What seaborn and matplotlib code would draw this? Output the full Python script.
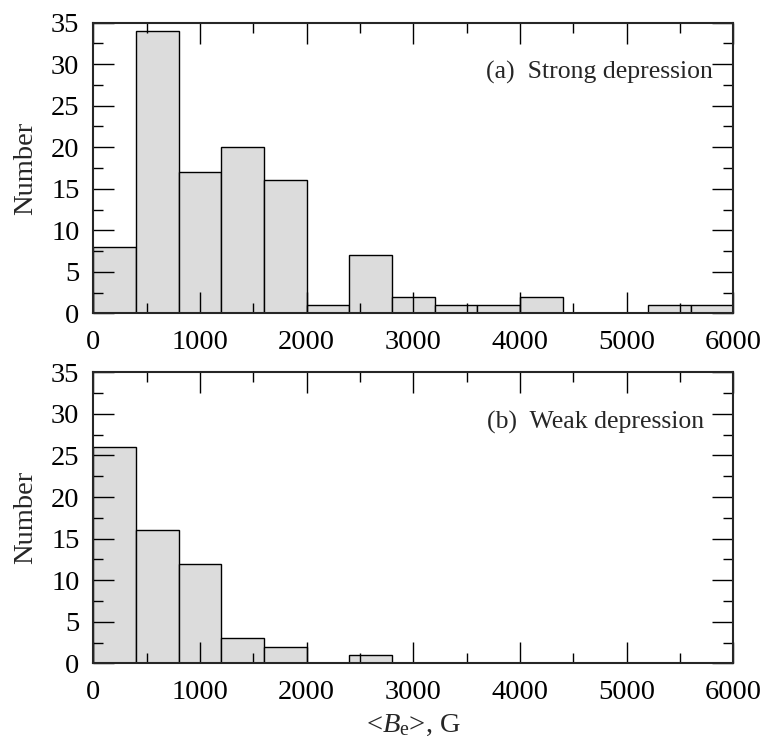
import numpy as np
import matplotlib
matplotlib.use("Agg")
import matplotlib.pyplot as plt
import seaborn as sns

# histogram counts, bins of 400 G from 0 to 6000
bin_edges = [0, 400, 800, 1200, 1600, 2000, 2400, 2800, 3200, 3600,
             4000, 4400, 4800, 5200, 5600, 6000]
strong_counts = [8, 34, 17, 20, 16, 1, 7, 2, 1, 1, 2, 0, 0, 1, 1]
weak_counts = [26, 16, 12, 3, 2, 0, 1, 0, 0, 0, 0, 0, 0, 0, 0]
panel_labels = ["(a)  Strong depression", "(b)  Weak depression"]

centers = [(a + b) / 2 for a, b in zip(bin_edges[:-1], bin_edges[1:])]

sns.set_style("ticks")
plt.rcParams["font.family"] = ["Liberation Serif", "DejaVu Serif"]
plt.rcParams["mathtext.fontset"] = "custom"
plt.rcParams["mathtext.rm"] = "Liberation Serif"
plt.rcParams["mathtext.it"] = "Liberation Serif:italic"

FS = 20.5

fig = plt.figure(figsize=(7.7, 7.5), dpi=100)
ax_top = fig.add_axes([0.1212, 0.5822, 0.8311, 0.3876])
ax_bot = fig.add_axes([0.1212, 0.1156, 0.8311, 0.3880])

panels = [(ax_top, strong_counts, panel_labels[0], 0.968, 0.83),
          (ax_bot, weak_counts, panel_labels[1], 0.954, 0.826)]

for ax, counts, label, tx, ty in panels:
    sns.histplot(x=centers, weights=counts, bins=bin_edges, ax=ax,
                 color="#dcdcdc", alpha=1, edgecolor="black", linewidth=1.0)
    ax.set_xlim(0, 6000)
    ax.set_ylim(0, 35)
    ax.set_xticks(np.arange(0, 6001, 1000))
    ax.set_xticks(np.arange(0, 6001, 500), minor=True)
    ax.set_yticks(np.arange(0, 36, 5))
    ax.set_yticks(np.arange(0, 36, 2.5), minor=True)
    ax.tick_params(which="both", direction="in", top=True, right=True,
                   labelsize=FS, width=1.0, colors="black")
    ax.tick_params(which="major", length=15)
    ax.tick_params(which="minor", length=7)
    ax.tick_params(axis="x", which="major", pad=12)
    ax.tick_params(axis="y", which="major", pad=10)
    for s in ax.spines.values():
        s.set_linewidth(1.5)
        s.set_zorder(5)
    ax.set_axisbelow(False)
    ax.set_ylabel("Number", fontsize=FS, labelpad=9)
    ax.set_xlabel("")
    ax.text(tx, ty, label, transform=ax.transAxes, ha="right", va="center",
            fontsize=18.5)

ax_bot.set_xlabel(r"<$B_{\rm e}$>, G", fontsize=FS, labelpad=6)

fig.savefig("out.png", dpi=100)
